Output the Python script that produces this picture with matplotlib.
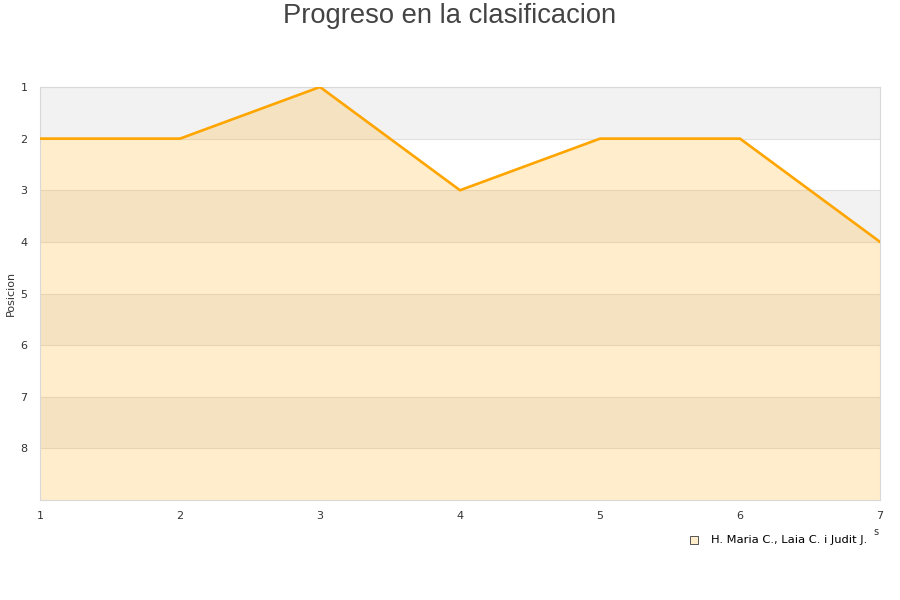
import numpy as np
import matplotlib.pyplot as plt

# datos
jornadas = [1, 2, 3, 4, 5, 6, 7]
posicion = [2, 2, 1, 3, 2, 2, 4]
equipo = "H. Maria C., Laia C. i Judit J."
y_ticks = [1, 2, 3, 4, 5, 6, 7, 8]
y_min, y_max = 1, 9

fig = plt.figure(figsize=(9, 6), dpi=100)
ax = fig.add_axes([40 / 900, 1 - 500 / 600, 840 / 900, 413 / 600])

# bandas alternas de fondo
for i in range(y_min, y_max):
    if (i - y_min) % 2 == 0:
        ax.axhspan(i, i + 1, color="#f2f2f2", zorder=0, lw=0)
    ax.axhline(i, color="#e0e0e0", lw=0.8, zorder=1)

ax.fill_between(jornadas, posicion, y_max, color="#ffa500", alpha=0.2, lw=0, zorder=2)
ax.plot(jornadas, posicion, color="#ffa500", lw=1.9, zorder=3)

ax.set_xlim(1, 7)
ax.set_ylim(y_max, y_min)
ax.set_xticks(jornadas)
ax.set_yticks(y_ticks)
ax.tick_params(length=0, labelsize=8, colors="#333333", pad=8)
ax.tick_params(axis="y", pad=9)
for s in ax.spines.values():
    s.set_color("#d8d8d8")
fig.text(11 / 900, 1 - 293 / 600, "Posicion", fontsize=8, color="#333333",
         rotation=90, ha="center", va="center")

fig.text(0.5, 1 - 16 / 600, "Progreso en la clasificacion", fontsize=19.7,
         family="Liberation Sans", color="#444444", ha="center", va="center")

# leyenda
ax.scatter([], [], marker="s", s=30, color="#ffedcc", edgecolors="#555555", linewidths=0.7,
           label=equipo)
leg = fig.legend(loc="center right", bbox_to_anchor=(867 / 900, 1 - 540 / 600), frameon=False,
                 fontsize=8.25, handletextpad=0.45, borderpad=0, borderaxespad=0)
fig.text(876 / 900, 1 - 532 / 600, "s", fontsize=7, color="#333333", ha="center", va="center")

fig.savefig("out.png", dpi=100)
